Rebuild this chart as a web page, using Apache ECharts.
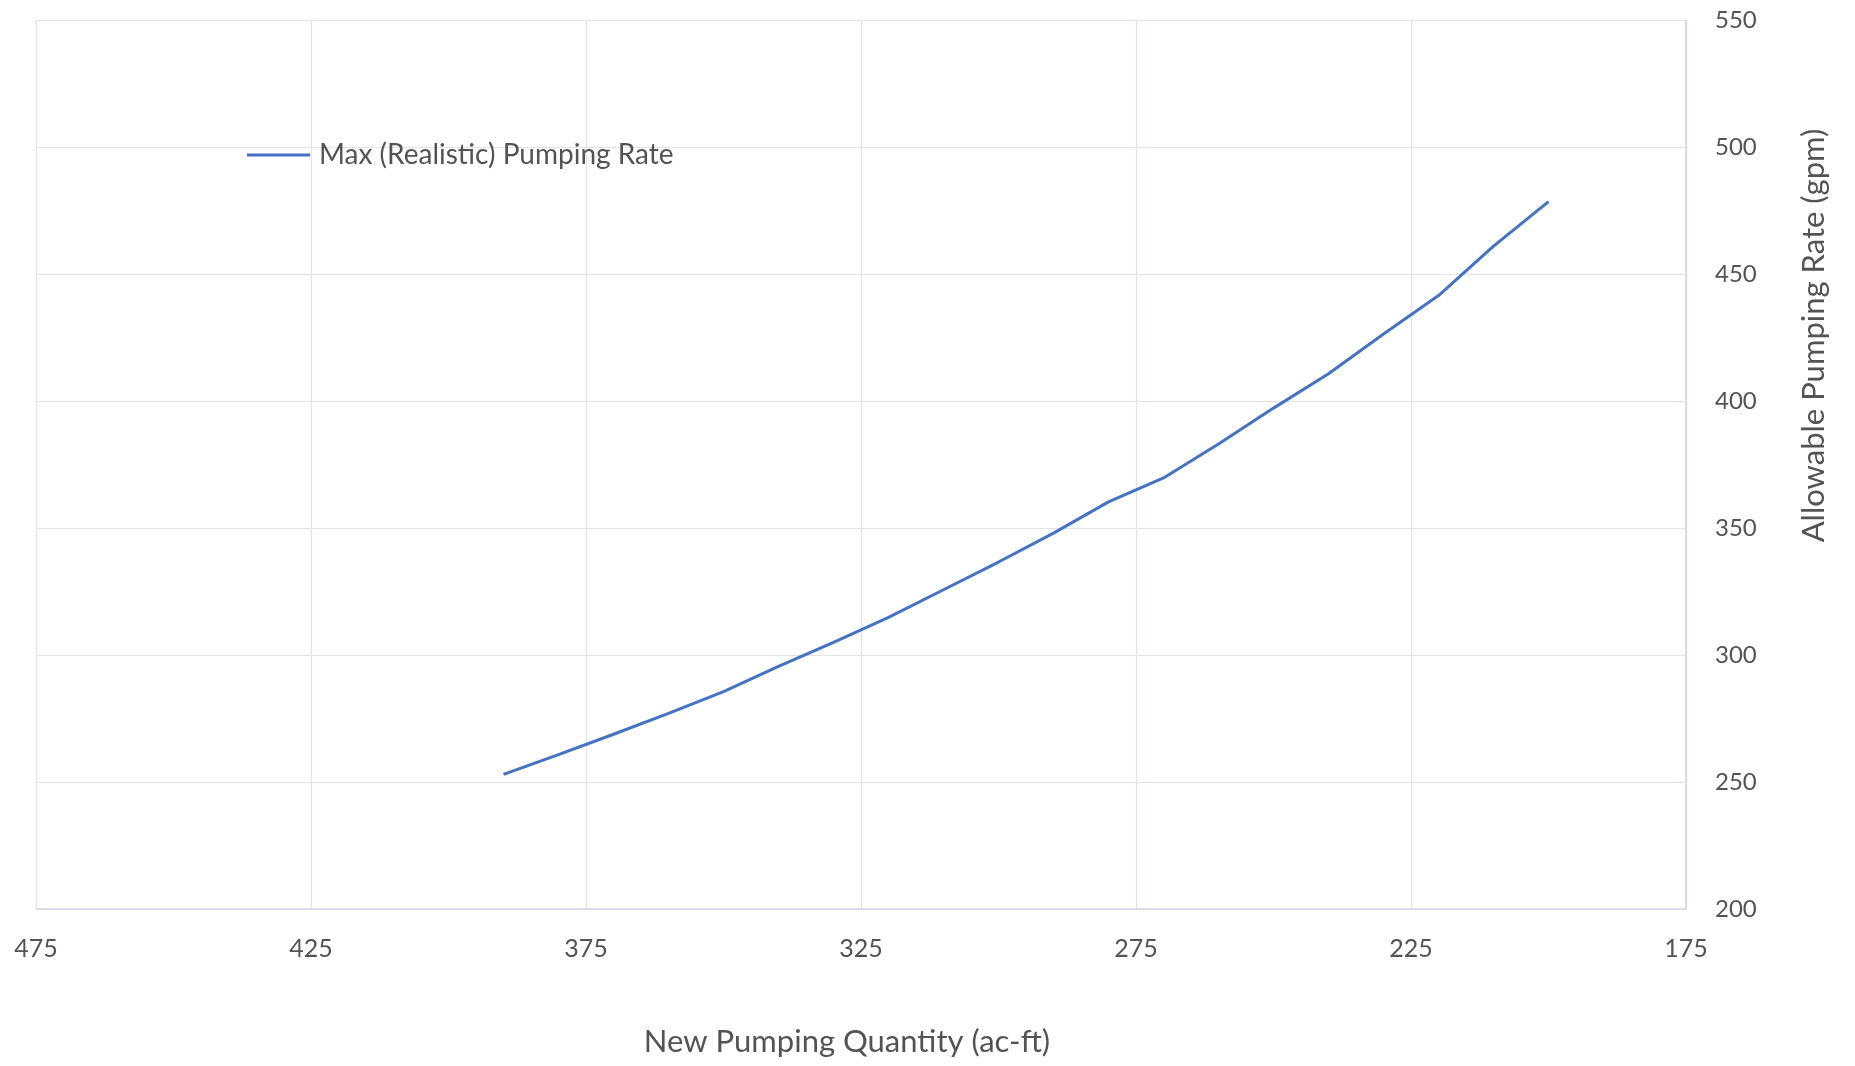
<!DOCTYPE html>
<html>
<head>
<meta charset="utf-8">
<title>Allowable Pumping Rate</title>
<script src="https://cdn.jsdelivr.net/npm/echarts@6/dist/echarts.min.js"></script>
<style>
  html, body { margin: 0; padding: 0; background: #ffffff; }
  #chart { width: 1855px; height: 1066px; }
</style>
</head>
<body>
<div id="chart"></div>
<script>
// New pumping quantity (ac-ft) and the matching maximum realistic pumping rate (gpm)
const quantity = [390, 380, 370, 360, 350, 340, 330, 320, 310, 300, 290, 280, 270, 260, 250, 240, 230, 220, 210, 200];
const pumpingRate = [253, 260.8, 268.8, 277, 285.6, 295.5, 305, 314.8, 325.7, 336.6, 348, 360.3, 369.7, 383.1, 397.2, 410.7, 426.4, 441.5, 461, 478.5];
// Tick positions on the quantity axis (runs from 475 down to 175)
const xTicks = [475, 425, 375, 325, 275, 225, 175];
const seriesName = 'Max (Realistic) Pumping Rate';
const xTitle = 'New Pumping Quantity (ac-ft)';
const yTitle = 'Allowable Pumping Rate (gpm)';

const FONT = 'Lato, "Open Sans", sans-serif';
const TEXT = '#535353';
const GRID = '#E1E2EC';
const AXIS = '#D3D5E2';
const LINE = '#4472C4';

const points = quantity.map((q, i) => [q, pumpingRate[i]]);

const chart = echarts.init(document.getElementById('chart'), null, { renderer: 'canvas' });
chart.setOption({
  backgroundColor: '#ffffff',
  animation: false,
  textStyle: { fontFamily: FONT, color: TEXT },
  grid: { left: 36, right: 169, top: 20, bottom: 157, containLabel: false },
  legend: {
    left: 242,
    top: 136,
    itemWidth: 63,
    itemHeight: 3,
    data: [{ name: seriesName, icon: 'rect' }],
    itemStyle: { color: LINE },
    textStyle: { fontFamily: FONT, fontSize: 28, color: TEXT, padding: [0, 0, 0, 4] }
  },
  xAxis: {
    type: 'value',
    inverse: true,
    min: 175,
    max: 475,
    name: xTitle,
    nameLocation: 'middle',
    nameGap: 117,
    nameTextStyle: { fontFamily: FONT, fontSize: 31, color: TEXT, padding: [0, 28, 0, 0] },
    axisLine: { show: true, lineStyle: { color: AXIS, width: 1.5 } },
    axisTick: { show: false, customValues: xTicks },
    axisLabel: { fontFamily: FONT, fontSize: 25, color: TEXT, margin: 27, customValues: xTicks },
    splitLine: { show: true, lineStyle: { color: GRID, width: 1.2 } }
  },
  yAxis: {
    type: 'value',
    position: 'right',
    min: 200,
    max: 550,
    interval: 50,
    name: yTitle,
    nameLocation: 'middle',
    nameRotate: 90,
    nameGap: 112,
    nameTextStyle: { fontFamily: FONT, fontSize: 31, color: TEXT, padding: [0, 0, 0, 258] },
    axisLine: { show: true, lineStyle: { color: AXIS, width: 1.5 } },
    axisTick: { show: false },
    axisLabel: { fontFamily: FONT, fontSize: 24, color: TEXT, margin: 29 },
    splitLine: { show: true, lineStyle: { color: GRID, width: 1.2 } }
  },
  series: [{
    name: seriesName,
    type: 'line',
    data: points,
    symbol: 'none',
    smooth: false,
    lineStyle: { color: LINE, width: 3 },
    itemStyle: { color: LINE }
  }]
});
</script>
</body>
</html>
